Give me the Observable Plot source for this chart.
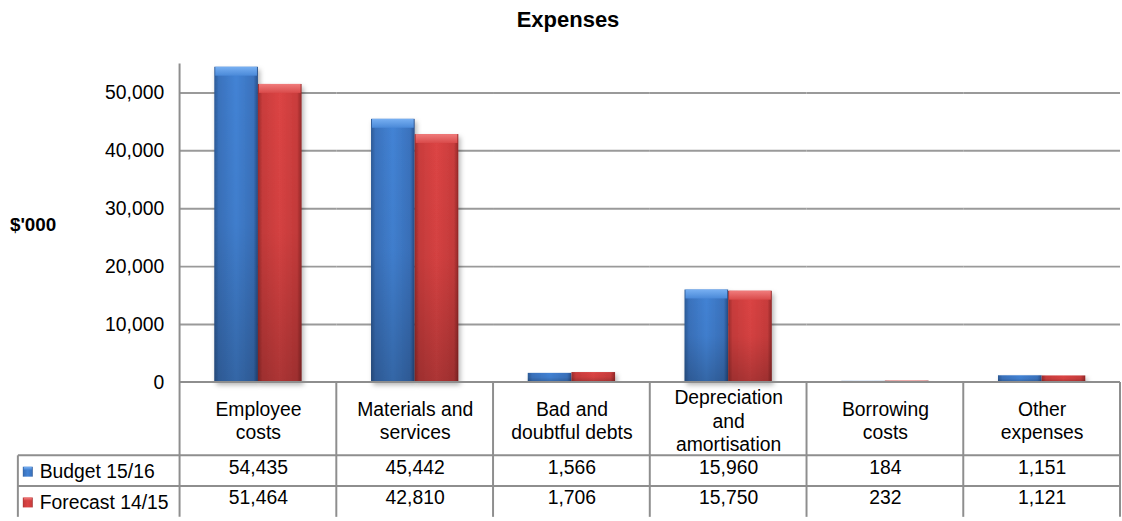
<!DOCTYPE html>
<html><head><meta charset="utf-8">
<script src="https://cdn.jsdelivr.net/npm/d3@7"></script>
<script src="https://cdn.jsdelivr.net/npm/@observablehq/plot@0.6"></script>
<style>
html,body{margin:0;padding:0;background:#fff;overflow:hidden;}
#wrap{position:relative;width:1122px;height:521px;overflow:hidden;font-family:"Liberation Sans",Arial,sans-serif;}
#title{position:absolute;left:0;top:8px;width:1136px;text-align:center;font-weight:bold;font-size:22px;line-height:24px;color:#000;}
#chart{position:absolute;left:0;top:0;}
</style>
</head><body>
<div id="wrap"><div id="chart"></div><div id="title">Expenses</div></div>
<script>
const categories = ["Employee costs","Materials and services","Bad and doubtful debts","Depreciation and amortisation","Borrowing costs","Other expenses"];
const categoryLabels = ["Employee\ncosts","Materials and\nservices","Bad and\ndoubtful debts","Depreciation\nand\namortisation","Borrowing\ncosts","Other\nexpenses"];
const series = ["Budget 15/16","Forecast 14/15"];
const budget = [54435,45442,1566,15960,184,1151];
const forecast = [51464,42810,1706,15750,232,1121];
const yTicks = [0,10000,20000,30000,40000,50000];
const yMax = 55000;
const yLabel = "$'000";

const fmt = d3.format(",");
const rows = categories.flatMap((c,i)=>[
  {category:c, series:series[0], value:budget[i]},
  {category:c, series:series[1], value:forecast[i]}
]);
const cats = categories.map((c,i)=>({category:c, label:categoryLabels[i], budget:budget[i], forecast:forecast[i]}));
const bySeries = s => rows.filter(d=>d.series===s);
const bevelRows = s => rows.filter(d=>d.series===s && d.value > 3000);

const FONT = '"Liberation Sans", Arial, sans-serif';
const plot = Plot.plot({
  width: 1131, height: 521,
  marginTop: 64, marginBottom: 136, marginLeft: 179, marginRight: 0,
  style: {fontFamily: FONT, fontSize: "19.5px", color: "#000", background: "transparent", overflow: "visible"},
  fx: {domain: categories, padding: 0, axis: null},
  x: {domain: series, paddingInner: 0, paddingOuter: 0.76, axis: null},
  y: {domain: [0, yMax], ticks: yTicks, tickFormat: fmt, tickSize: 0, tickPadding: 16, label: null},
  marks: [
    Plot.ruleY(yTicks.filter(t=>t>0), {stroke: "#9a9a9a", strokeWidth: 2}),
    Plot.barY(bySeries(series[0]), {fx:"category", x:"series", y:"value", fill:"url(#gBlue)", className:"mainbar"}),
    Plot.barY(bySeries(series[1]), {fx:"category", x:"series", y:"value", fill:"url(#gRed)", className:"mainbar"}),
    Plot.barY(rows, {fx:"category", x:"series", y:"value", fill:"url(#gShade)"}),
    Plot.barY(bevelRows(series[0]), {fx:"category", x:"series", y1:"value", y2:"value", insetBottom:-9, insetLeft:1, insetRight:1, fill:"url(#bBlue)"}),
    Plot.barY(bevelRows(series[1]), {fx:"category", x:"series", y1:"value", y2:"value", insetBottom:-9, insetLeft:1, insetRight:1, fill:"url(#bRed)"}),
    Plot.text(cats, {fx:"category", text:"label", frameAnchor:"bottom", lineAnchor:"middle", dy:38, lineHeight:1.2, fill:"#000"}),
    Plot.text(cats, {fx:"category", text:d=>fmt(d.budget), frameAnchor:"bottom", dy:92, fill:"#000"}),
    Plot.text(cats, {fx:"category", text:d=>fmt(d.forecast), frameAnchor:"bottom", dy:123, fill:"#000"})
  ]
});
document.getElementById("chart").appendChild(plot);
const svgEl = plot.tagName.toLowerCase() === "svg" ? plot : plot.querySelector("svg");
const svg = d3.select(svgEl);

// gradients & filter
const defs = svg.insert("defs", ":first-child");
function hgrad(id, stops){
  const g = defs.append("linearGradient").attr("id", id).attr("x1",0).attr("x2",1).attr("y1",0).attr("y2",0);
  stops.forEach(([o,c])=>g.append("stop").attr("offset",o).attr("stop-color",c));
}
function vgrad(id, stops){
  const g = defs.append("linearGradient").attr("id", id).attr("x1",0).attr("x2",0).attr("y1",0).attr("y2",1);
  stops.forEach(([o,c,a])=>g.append("stop").attr("offset",o).attr("stop-color",c).attr("stop-opacity", a==null?1:a));
}
hgrad("gBlue", [[0,"#2c5a96"],[0.1,"#3a72bd"],[0.5,"#4383d5"],[0.9,"#3a72bd"],[1,"#28508a"]]);
hgrad("gRed", [[0,"#9c2c2c"],[0.1,"#c93c3c"],[0.5,"#dc4444"],[0.9,"#c93c3c"],[1,"#922828"]]);
vgrad("gShade", [[0,"#000",0],[0.5,"#000",0.04],[1,"#000",0.22]]);
vgrad("bBlue", [[0,"#78b0f2"],[1,"#4a89d8"]]);
vgrad("bRed", [[0,"#f07c7c"],[1,"#d94a4a"]]);
const f = defs.append("filter").attr("id","shadow").attr("x","-20%").attr("y","-5%").attr("width","140%").attr("height","115%");
f.append("feDropShadow").attr("dx",2).attr("dy",3).attr("stdDeviation",2.5).attr("flood-color","#000").attr("flood-opacity",0.3);
svg.selectAll("g.mainbar rect, .mainbar rect").attr("filter","url(#shadow)");

// table & axis lines from the Plot scales
const fx = plot.scale("fx"), y = plot.scale("y");
const y0 = y.apply(0), yTop = y.apply(yMax);
const bounds = categories.map(c=>fx.apply(c));
const left = bounds[0];
const right = bounds[bounds.length-1] + fx.bandwidth;
bounds.push(right);
const row1 = y0 + 74, row2 = y0 + 105, bottom = y0 + 136;
const legendLeft = 18;
const lines = svg.append("g").attr("stroke","#8e8e8e").attr("stroke-width",2).attr("fill","none");
lines.append("line").attr("x1",left).attr("x2",right).attr("y1",y0).attr("y2",y0);
lines.append("line").attr("x1",left).attr("x2",left).attr("y1",yTop).attr("y2",bottom);
bounds.slice(1).forEach(b=>lines.append("line").attr("x1",b).attr("x2",b).attr("y1",y0).attr("y2",bottom));
[row1,row2].forEach(r=>lines.append("line").attr("x1",legendLeft).attr("x2",right).attr("y1",r).attr("y2",r));
lines.append("line").attr("x1",legendLeft).attr("x2",legendLeft).attr("y1",row1).attr("y2",bottom);

// legend cells of the data table
const leg = svg.append("g").attr("font-family",FONT).attr("font-size","19.5px").attr("text-anchor","start");
[["url(#gBlue)","url(#bBlue)"],["url(#gRed)","url(#bRed)"]].forEach(([fill,bev],i)=>{
  const cy = i===0 ? (row1+row2)/2 : (row2+bottom)/2;
  leg.append("rect").attr("x",23).attr("y",cy-4).attr("width",10).attr("height",10).attr("fill",fill);
  leg.append("rect").attr("x",24).attr("y",cy-4).attr("width",8).attr("height",3).attr("fill",bev);
  leg.append("text").attr("x",40).attr("y",cy+1).attr("dy","0.35em").attr("fill","#000").text(series[i]);
});

// y axis title
svg.append("text").attr("x",10).attr("y",(y0+yTop)/2+2).attr("dy","0.35em").attr("text-anchor","start")
  .attr("font-family",FONT).attr("font-size","19px").attr("font-weight","bold").attr("fill","#000").text(yLabel);
</script>
</body></html>
